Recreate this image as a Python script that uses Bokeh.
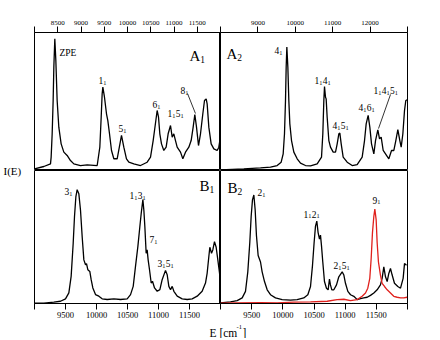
from bokeh.plotting import figure
from bokeh.layouts import row, column
from bokeh.models import Range1d, FixedTicker, Label
from bokeh.core.properties import value
from bokeh.embed import file_html
from bokeh.resources import INLINE

SERIF = "Liberation Serif"

# ---------------- data ----------------
A1_E = [8000, 8201, 8344, 8358, 8380, 8401, 8416, 8437, 8459, 8487, 8523, 8573, 8631, 8702,
        8774, 8846, 8989, 9133, 9348, 9405, 9434, 9455, 9470, 9505, 9548, 9577, 9613, 9656,
        9706, 9778, 9871, 9921, 9978, 10029, 10136, 10280, 10423, 10495, 10552, 10581, 10638,
        10667, 10695, 10731, 10781, 10831, 10874, 10925, 10961, 10996, 11032, 11068, 11140,
        11190, 11247, 11319, 11369, 11412, 11448, 11484, 11527, 11570, 11620, 11656, 11692,
        11713, 11749, 11799, 11857, 11928, 11964, 11986]
A1_I = [1.2, 2.9, 4.8, 9.7, 26.6, 50.7, 74.9, 95.4, 79.7, 50.7, 31.4, 19.3, 13.3, 10.9,
        7.2, 4.8, 3.6, 4.1, 3.6, 16.9, 38.6, 55.6, 60.4, 53.1, 41.1, 36.2, 26.6, 14.5,
        8.5, 8.5, 25.4, 16.9, 8.5, 6.0, 4.8, 3.6, 6.0, 9.7, 21.7, 29.0, 43.5,
        38.6, 26.6, 19.3, 14.5, 16.9, 26.6, 32.6, 24.2, 26.6, 21.7, 16.9, 13.3,
        8.5, 13.3, 16.9, 21.7, 31.4, 40.6, 31.4, 18.1, 26.6, 41.1, 50.7, 51.9,
        48.3, 31.4, 19.3, 15.7, 14.5, 16.9, 21.7]

A2_E = [8000, 8624, 9070, 9337, 9515, 9622, 9676, 9711, 9738, 9756, 9774, 9801, 9827, 9854,
        9899, 9961, 10050, 10139, 10273, 10407, 10585, 10701, 10736, 10763, 10781, 10808,
        10825, 10852, 10897, 10941, 11013, 11075, 11120, 11164, 11191, 11227, 11280, 11387,
        11521, 11654, 11788, 11851, 11895, 11948, 11993, 12038, 12100, 12145, 12207, 12252,
        12296, 12350, 12412, 12501, 12573, 12635, 12688, 12742, 12795, 12831, 12876, 12920,
        12955, 12991]
A2_I = [0.5, 1.2, 1.9, 2.4, 3.6, 6.0, 12.1, 26.6, 50.7, 74.9, 89.4, 74.9, 50.7, 33.8,
        21.7, 13.3, 8.5, 5.3, 3.6, 3.4, 4.8, 9.7, 26.6, 50.7, 60.9, 53.1,
        51.9, 38.6, 21.7, 16.9, 13.3, 13.3, 19.3, 26.6, 27.1, 19.3, 9.7, 6.0,
        3.6, 4.3, 9.7, 21.7, 33.8, 39.9, 31.4, 19.3, 12.1, 21.7, 29.5, 22.9,
        24.2, 14.5, 12.1, 8.5, 14.5, 14.5, 21.7, 29.7, 21.7, 16.9, 26.6, 43.5,
        50.7, 51.2]

B1_E = [9000, 9151, 9312, 9419, 9500, 9554, 9591, 9624, 9645, 9667, 9688, 9715, 9742, 9769,
        9796, 9823, 9839, 9860, 9892, 9914, 9941, 9984, 10038, 10091, 10172, 10280, 10387,
        10495, 10549, 10592, 10629, 10667, 10699, 10721, 10748, 10764, 10780, 10801, 10817,
        10833, 10855, 10882, 10903, 10936, 10979, 11022, 11059, 11113, 11140, 11167, 11194,
        11221, 11248, 11302, 11382, 11463, 11543, 11624, 11704, 11758, 11785, 11812, 11828,
        11855, 11876, 11903, 11930, 11957, 11984, 12000]
B1_I = [0.3, 0.3, 1.0, 1.7, 3.5, 8.0, 20.4, 45.3, 65.2, 80.1, 85.6, 82.6, 70.1, 50.2,
        32.8, 29.1, 29.9, 25.4, 24.1, 17.9, 11.7, 6.7, 5.5, 3.5, 3.0, 3.5, 3.0,
        3.5, 6.7, 12.9, 27.9, 42.8, 57.7, 67.7, 78.1, 70.1, 57.7, 37.8, 40.3,
        32.8, 25.4, 15.4, 16.7, 11.7, 9.2, 10.4, 17.9, 24.9, 21.6, 12.9, 10.4,
        12.9, 9.2, 5.5, 3.5, 3.0, 3.5, 5.5, 9.2, 15.4, 22.9, 35.3, 42.3,
        37.8, 40.3, 46.5, 42.3, 32.8, 22.9, 15.4]

B2_E = [9000, 9160, 9267, 9348, 9401, 9438, 9470, 9492, 9513, 9535, 9556, 9577, 9604, 9642,
        9668, 9706, 9749, 9802, 9882, 9989, 10123, 10230, 10336, 10401, 10444, 10476, 10502,
        10524, 10545, 10566, 10588, 10604, 10620, 10641, 10668, 10700, 10727, 10748, 10764,
        10786, 10818, 10861, 10898, 10952, 10979, 11005, 11043, 11086, 11139, 11193, 11246,
        11299, 11353, 11406, 11460, 11513, 11566, 11593, 11620, 11647, 11674, 11700, 11727,
        11754, 11791, 11845, 11888, 11930, 11952, 11984]
B2_I = [0.5, 1.2, 2.2, 4.2, 9.1, 23.8, 45.9, 65.6, 77.9, 81.6, 70.5, 50.9, 36.1, 31.2,
        23.8, 16.5, 10.3, 6.6, 4.2, 2.9, 2.5, 2.9, 4.2, 6.6, 12.8, 28.7, 45.9,
        58.2, 61.9, 53.3, 48.4, 51.4, 43.5, 31.2, 16.5, 11.5, 10.3, 18.4, 14.0,
        10.3, 10.3, 14.0, 20.1, 23.8, 21.4, 15.2, 9.1, 6.6, 5.4, 2.9, 3.7,
        4.2, 4.7, 6.1, 7.9, 10.3, 14.0, 18.9, 27.5, 20.1, 16.5, 22.6, 26.3,
        21.4, 15.2, 12.8, 11.5, 18.9, 30.0, 28.7]

B2R_E = [9000, 9267, 9642, 9909, 10176, 10444, 10711, 10871, 10979, 11086, 11193, 11272,
         11326, 11363, 11395, 11417, 11438, 11460, 11476, 11497, 11513, 11534, 11566, 11593,
         11631, 11674, 11727, 11780, 11834, 11888, 11941, 11994]
B2R_I = [0.2, 0.5, 0.7, 0.5, 1.0, 1.2, 1.7, 2.9, 3.2, 2.2, 2.9, 5.4,
         7.9, 11.5, 18.9, 33.7, 53.3, 65.6, 71.0, 63.1, 45.9, 31.2, 21.4, 15.2,
         12.8, 10.3, 7.9, 5.4, 4.7, 4.2, 4.2, 4.7]

A1_TICKS = [8000, 8500, 9000, 9500, 10000, 10500, 11000, 11500, 12000]
A2_TICKS = [8000, 9000, 10000, 11000, 12000, 13000]
B_TICKS = [9000, 9500, 10000, 10500, 11000, 11500, 12000]

# peak labels (text with subscripts, E, I)
A1_LAB = ["ZPE", "1₁", "5₁", "6₁", "1₁5₁", "8₁"]
A1_LX = [8538, 9376, 9806, 10538, 10860, 11140]
A1_LY = [84.8, 65.2, 30.4, 47.8, 41.3, 58.0]
A2_LAB = ["4₁", "1₁4₁", "4₁5₁", "4₁6₁", "1₁4₁5₁"]
A2_LX = [9444, 10514, 10995, 11690, 12091]
A2_LY = [87.0, 65.2, 32.6, 45.7, 58.0]
B1_LAB = ["3₁", "1₁3₁", "7₁", "3₁5₁"]
B1_LX = [9484, 10532, 10855, 10984]
B1_LY = [84.3, 81.3, 47.8, 29.9]
B2_LAB = ["2₁", "1₁2₁", "2₁5₁", "9₁"]
B2_LX = [9593, 10331, 10813, 11438]
B2_LY = [83.6, 67.2, 28.4, 77.6]

RED = "#e0201c"

SUBS = "₀₁₂₃₄₅₆₇₈₉"
WIDTH = {"Z": 0.611, "P": 0.556, "E": 0.611, "A": 0.722, "B": 0.667}


def panel(xr, w, h, mb, loc, ticks, tick_font, standoff):
    p = figure(width=w, height=h, x_range=Range1d(*xr), y_range=Range1d(0, 100),
               output_backend="svg", toolbar_location=None,
               x_axis_location=loc, y_axis_location=None,
               min_border_left=mb[0], min_border_right=mb[1],
               min_border_top=mb[2], min_border_bottom=mb[3])
    p.grid.visible = False
    p.outline_line_color = "black"
    p.outline_line_width = 1
    p.background_fill_color = "white"
    p.border_fill_color = "white"
    ax = p.xaxis[0]
    ax.ticker = FixedTicker(ticks=ticks)
    ax.major_label_overrides = {ticks[0]: "", ticks[-1]: ""}
    ax.major_tick_in = 0
    ax.major_tick_out = 6
    ax.minor_tick_in = 0
    ax.minor_tick_out = 0
    ax.axis_line_color = "black"
    ax.major_tick_line_color = "black"
    ax.major_label_text_font = SERIF
    ax.major_label_text_font_size = tick_font
    ax.major_label_text_color = "black"
    ax.major_label_standoff = standoff
    return p


def labels(p, xs, ys, texts, size=9.5, sub=6.3, drop=2.2):
    mx, my, mt, mo = [], [], [], []
    sx, sy, st, so = [], [], [], []
    for x, y, t in zip(xs, ys, texts):
        cur = 0.0
        for ch in t:
            if ch in SUBS:
                sx.append(x); sy.append(y); st.append(str(SUBS.index(ch))); so.append(cur)
                cur += sub * 0.5 + 0.3
            else:
                mx.append(x); my.append(y); mt.append(ch); mo.append(cur)
                cur += size * WIDTH.get(ch, 0.5)
    p.text(x=mx, y=my, text=mt, x_offset=mo, text_font=value(SERIF),
           text_font_size=f"{size}px", text_align="left", text_baseline="alphabetic",
           text_color="black")
    if st:
        p.text(x=sx, y=sy, text=st, x_offset=so, y_offset=drop, text_font=value(SERIF),
               text_font_size=f"{sub}px", text_align="left", text_baseline="alphabetic",
               text_color="black")


# ---- A1 ----
pA1 = panel((8000, 12000), 187, 170, (1, 0, 32, 0), "above", A1_TICKS, "7px", 2)
pA1.line(A1_E, A1_I, line_color="black", line_width=1.3)
labels(pA1, A1_LX, A1_LY, A1_LAB)
pA1.segment(x0=[11290], y0=[55.8], x1=[11462], y1=[41.3], line_color="black", line_width=0.8)
labels(pA1, [11333], [83.3], ["A₁"], size=15, sub=9.5, drop=3.5)

# ---- A2 ----
pA2 = panel((8000, 13000), 188, 170, (0, 1, 32, 0), "above", A2_TICKS, "7px", 2)
pA2.line(A2_E, A2_I, line_color="black", line_width=1.3)
labels(pA2, A2_LX, A2_LY, A2_LAB)
pA2.segment(x0=[12546], y0=[55.1], x1=[12225], y1=[30.4], line_color="black", line_width=0.8)
labels(pA2, [8160], [84.1], ["A₂"], size=15, sub=9.5, drop=3.5)

# ---- B1 ----
pB1 = panel((9000, 12000), 187, 150, (1, 0, 0, 16), "below", B_TICKS, "8.5px", 2)
pB1.line(B1_E, B1_I, line_color="black", line_width=1.3)
labels(pB1, B1_LX, B1_LY, B1_LAB)
labels(pB1, [11661], [88.1], ["B₁"], size=15, sub=9.5, drop=3.5)

# ---- B2 ----
pB2 = panel((9000, 12000), 188, 150, (0, 1, 0, 16), "below", B_TICKS, "8.5px", 2)
pB2.line(B2_E, B2_I, line_color="black", line_width=1.3)
pB2.line(B2R_E, B2R_I, line_color=RED, line_width=1.3)
labels(pB2, B2_LX, B2_LY, B2_LAB)
labels(pB2, [9112], [86.6], ["B₂"], size=15, sub=9.5, drop=3.5)


def blank(w, h):
    f = figure(width=w, height=h, x_range=Range1d(0, w), y_range=Range1d(h, 0),
               output_backend="svg", toolbar_location=None,
               x_axis_location=None, y_axis_location=None, min_border=0)
    f.min_border_left = 0
    f.min_border_right = 0
    f.min_border_top = 0
    f.min_border_bottom = 0
    f.grid.visible = False
    f.outline_line_color = None
    return f


left = blank(33, 320)
left.add_layout(Label(x=3, y=170, text="I(E)", text_font=SERIF, text_font_size="11px",
                      text_baseline="middle", text_align="left", text_color="black"))

bottom = blank(408, 18)
bottom.add_layout(Label(x=209, y=12, text="E [cm", text_font=SERIF, text_font_size="11.5px",
                        text_baseline="alphabetic", text_align="left", text_color="black"))
bottom.add_layout(Label(x=236, y=6, text="-1", text_font=SERIF, text_font_size="6.5px",
                        text_baseline="alphabetic", text_align="left", text_color="black"))
bottom.add_layout(Label(x=242, y=12, text="]", text_font=SERIF, text_font_size="11.5px",
                        text_baseline="alphabetic", text_align="left", text_color="black"))

grid = column(row(pA1, pA2), row(pB1, pB2))
layout = column(row(left, grid), bottom)

open("out.html", "w").write(file_html(layout, INLINE))
